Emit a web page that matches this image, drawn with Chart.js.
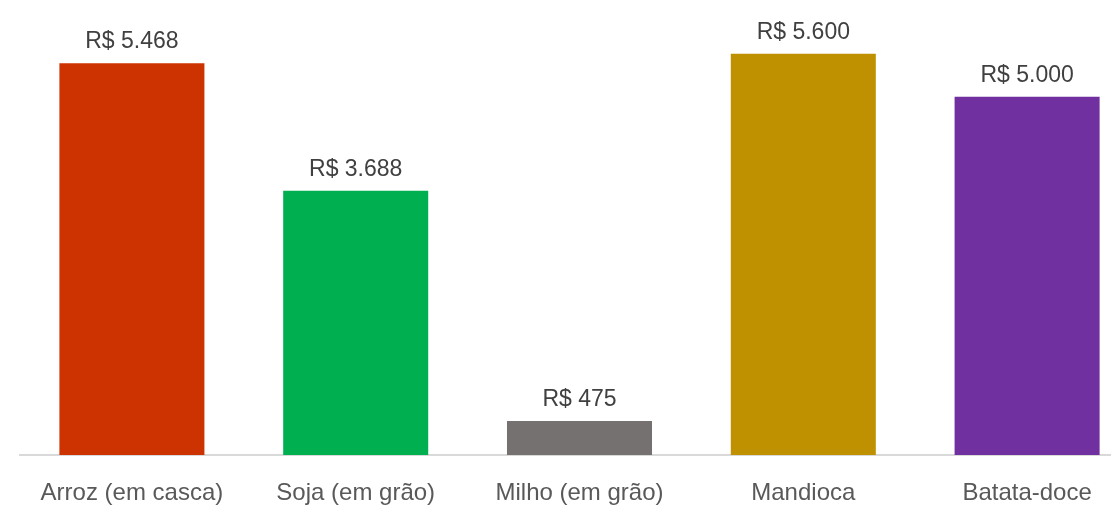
<!DOCTYPE html>
<html>
<head>
<meta charset="utf-8">
<script src="https://cdn.jsdelivr.net/npm/chart.js@4"></script>
<style>
    html, body { margin: 0; padding: 0; background: #ffffff; overflow: hidden; }
    #wrap { width: 1140px; height: 505px; }
</style>
</head>
<body>
<div id="wrap"><canvas id="chart" width="1140" height="505"></canvas></div>
<script>
// ---------------- Data ----------------
const categories = ["Arroz (em casca)", "Soja (em grão)", "Milho (em grão)", "Mandioca", "Batata-doce"];
const values = [5468, 3688, 475, 5600, 5000];
const barColors = ["#cc3300", "#00b050", "#767171", "#bf9000", "#7030a0"];

function formatBRL(v){
    return "R$ " + v.toLocaleString("pt-BR");
}

// ---------------- Value labels ----------------
const valueLabels = {
    id: "valueLabels",
    afterDatasetsDraw(chart){
        const ctx = chart.ctx;
        const meta = chart.getDatasetMeta(0);
        ctx.save();
        ctx.font = "23px 'Liberation Sans', Arial, sans-serif";
        ctx.fillStyle = "#404040";
        ctx.textAlign = "center";
        ctx.textBaseline = "bottom";
        meta.data.forEach((bar, i) => {
            ctx.fillText(formatBRL(values[i]), bar.x, bar.y - 10);
        });
        ctx.restore();
    }
};

new Chart(document.getElementById("chart"), {
    type: "bar",
    data: {
        labels: categories,
        datasets: [{
            data: values,
            backgroundColor: barColors,
            barPercentage: 0.648,
            categoryPercentage: 1
        }]
    },
    options: {
        responsive: false,
        animation: false,
        layout: { padding: { left: 20, right: 1, top: 25, bottom: 0 } },
        plugins: {
            legend: { display: false },
            tooltip: { enabled: false }
        },
        scales: {
            x: {
                grid: { display: false, drawTicks: false },
                border: { display: true, color: "#d9d9d9", width: 2 },
                ticks: {
                    padding: 24,
                    color: "#595959",
                    font: { family: "'Liberation Sans', Arial, sans-serif", size: 24 },
                    maxRotation: 0,
                    autoSkip: false
                },
                afterFit(scale){
                    scale.height = 50;
                }
            },
            y: {
                display: false,
                min: 0,
                max: 6000
            }
        }
    },
    plugins: [valueLabels]
});
</script>
</body>
</html>
